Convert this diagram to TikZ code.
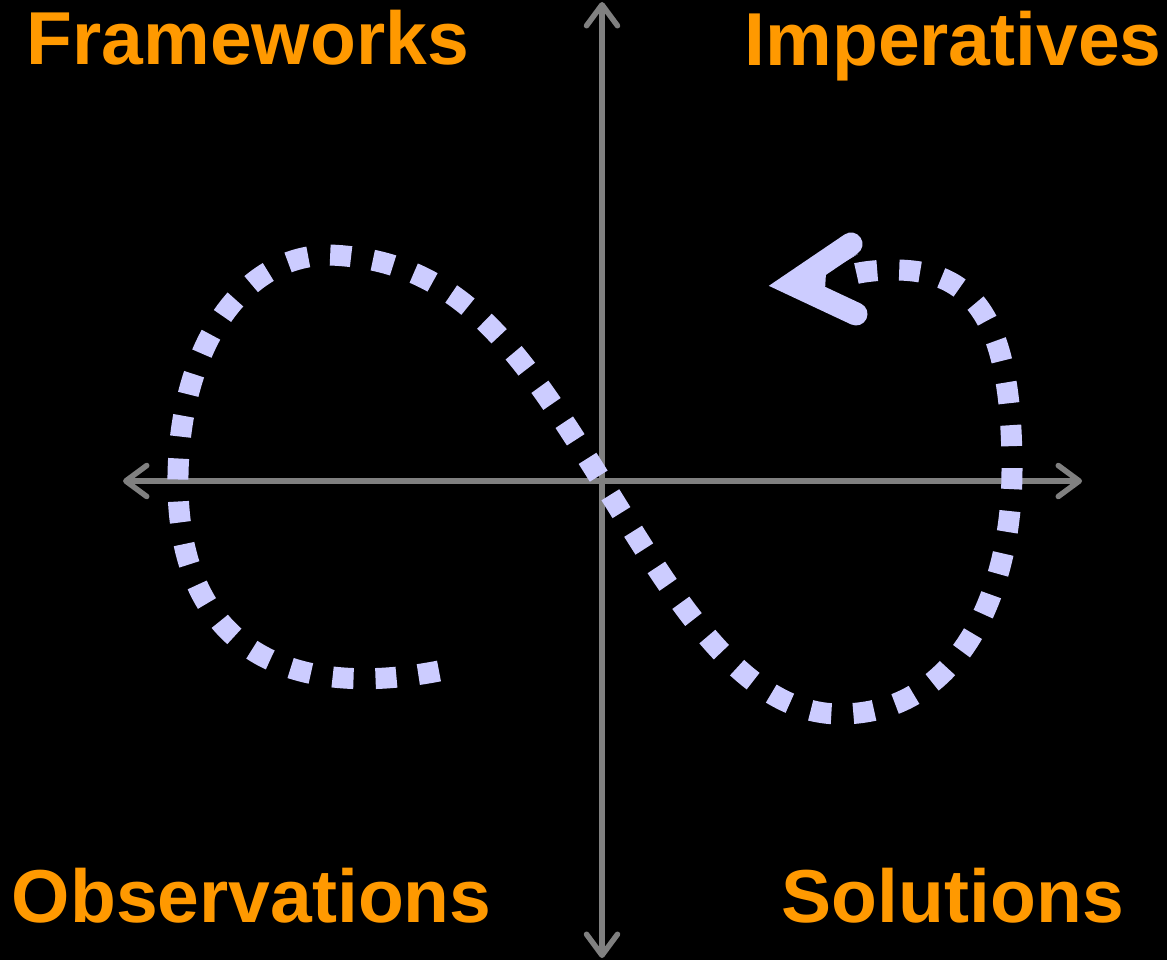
\documentclass[tikz,border=0pt]{standalone}
\usepackage{fontspec}
\setmainfont{Liberation Sans}
\usetikzlibrary{arrows.meta}

\definecolor{bgColor}{RGB}{0,0,0}
\definecolor{axisColor}{RGB}{128,128,128}
\definecolor{loopColor}{RGB}{204,204,255}
\definecolor{labelColor}{RGB}{255,153,0}

\tikzset{
  quadlabel/.style={inner sep=0pt, text=labelColor, font=\fontsize{42.7}{50}\selectfont\bfseries},
  axisline/.style={draw=axisColor, line width=0.11cm, {Straight Barb[length=0.42cm,width=0.62cm,round]}-{Straight Barb[length=0.42cm,width=0.62cm,round]}},
  loopline/.style={draw=loopColor, line width=0.42cm, dash pattern=on 0.42cm off 0.44cm}
}

\begin{document}
\begin{tikzpicture}[x=0.02cm,y=-0.02cm]
\fill[bgColor] (0,0) rectangle (1167,960);
\useasboundingbox (0,0) rectangle (1167,960);
% axes
\coordinate (x left) at (123,481);
\coordinate (x right) at (1082,481);
\coordinate (y top) at (602,2);
\coordinate (y bottom) at (602,958);
\draw[axisline] (x left) -- (x right);
\draw[axisline] (y top) -- (y bottom);
% the loop, from the lower left end to the arrow head
\coordinate (loop start) at (439,671);
\coordinate (loop end) at (846,276);
\draw[loopline] (loop start) .. controls (290,700) and (175,650) .. (178,475)
  .. controls (180,350) and (240,255) .. (330,255)
  .. controls (460,260) and (520,350) .. (603,483)
  .. controls (670,590) and (740,714) .. (840,714)
  .. controls (960,714) and (1012,590) .. (1012,470)
  .. controls (1012,330) and (980,270) .. (895,270)
  .. controls (875,270) and (860,272) .. (loop end);
\coordinate (head) at (792,284);
\draw[loopColor, line width=0.46cm, line cap=round, line join=miter] (851,244) -- (head) -- (856,314);
\fill[loopColor] (head) -- (858,254) -- (826,273) -- (825,290) -- (862,306) -- cycle;
% quadrant labels
\node[quadlabel, anchor=base west] (frameworks) at (26.5,64) {Frameworks};
\node[quadlabel, anchor=base east] (imperatives) at (1162,65) {Imperatives};
\node[quadlabel, anchor=base west] (observations) at (11.6,922) {Observations};
\node[quadlabel, anchor=base east] (solutions) at (1124,922) {Solutions};
\end{tikzpicture}
\end{document}
